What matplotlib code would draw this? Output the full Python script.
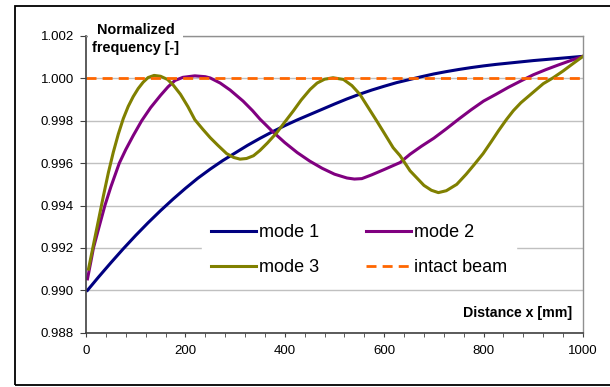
import numpy as np
import matplotlib
matplotlib.use("Agg")
import matplotlib.pyplot as plt
from matplotlib.patches import Rectangle
from matplotlib.ticker import MultipleLocator, FormatStrFormatter

plt.rcParams['font.family'] = ['Liberation Sans', 'DejaVu Sans']

# values (distance in mm, normalized frequency)
x1 = [3, 25, 50, 75, 100, 125, 150, 175, 200, 225, 250, 275, 300, 325, 350,
      375, 400, 425, 450, 475, 500, 525, 550, 575, 600, 625, 650, 675, 700,
      725, 750, 775, 800, 825, 850, 875, 900, 925, 950, 975, 1000]
mode1 = [0.99000, 0.99062, 0.99130, 0.99196, 0.99259, 0.99319, 0.99376,
         0.99430, 0.99481, 0.99529, 0.99572, 0.99612, 0.99648, 0.99684,
         0.99717, 0.99748, 0.99777, 0.99804, 0.99829, 0.99854, 0.99879,
         0.99903, 0.99925, 0.99945, 0.99963, 0.99980, 0.99994, 1.00008,
         1.00021, 1.00032, 1.00042, 1.00051, 1.00059, 1.00066, 1.00072,
         1.00078, 1.00084, 1.00089, 1.00094, 1.00099, 1.00104]

x2 = [3, 10, 15, 25, 38, 50, 67, 80, 95, 112, 130, 150, 165, 179, 195, 219,
      240, 250, 270, 290, 316, 335, 350, 375, 400, 425, 450, 475, 500, 525,
      540, 555, 575, 600, 632, 652, 675, 700, 725, 750, 775, 800, 825, 850,
      875, 900, 925, 950, 975, 1000]
mode2 = [0.99054, 0.99138, 0.99200, 0.99288, 0.99400, 0.99488, 0.99600,
         0.99664, 0.99730, 0.99800, 0.99862, 0.99920, 0.99960, 0.99990,
         1.00005, 1.00012, 1.00008, 1.00002, 0.99978, 0.99945, 0.99893,
         0.99848, 0.99808, 0.99750, 0.99697, 0.99650, 0.99610, 0.99576,
         0.99548, 0.99530, 0.99525, 0.99527, 0.99545, 0.99570, 0.99603,
         0.99642, 0.99680, 0.99718, 0.99762, 0.99808, 0.99852, 0.99893,
         0.99925, 0.99958, 0.99988, 1.00017, 1.00041, 1.00063, 1.00084,
         1.00104]

x3 = [5, 15, 25, 35, 45, 55, 65, 75, 85, 95, 105, 115, 125, 137, 150, 164,
      175, 190, 205, 219, 235, 250, 265, 283, 297, 310, 323, 337, 350, 365,
      384, 400, 417, 433, 451, 465, 480, 497, 518, 535, 551, 568, 585, 600,
      618, 632, 652, 665, 680, 695, 709, 725, 746, 765, 780, 799, 815, 830,
      846, 860, 875, 900, 920, 940, 960, 980, 1000]
mode3 = [0.99100, 0.99215, 0.99330, 0.99445, 0.99555, 0.99652, 0.99737,
         0.99810, 0.99868, 0.99914, 0.99952, 0.99982, 1.00004, 1.00014,
         1.00010, 0.99995, 0.99970, 0.99925, 0.99867, 0.99805, 0.99760,
         0.99720, 0.99685, 0.99645, 0.99627, 0.99619, 0.99622, 0.99635,
         0.99660, 0.99695, 0.99744, 0.99794, 0.99846, 0.99898, 0.99948,
         0.99978, 0.99996, 1.00003, 0.99995, 0.99966, 0.99925, 0.99862,
         0.99799, 0.99742, 0.99673, 0.99635, 0.99564, 0.99532, 0.99495,
         0.99472, 0.99461, 0.99470, 0.99500, 0.99548, 0.99590, 0.99645,
         0.99700, 0.99753, 0.99806, 0.99848, 0.99885, 0.99935, 0.99975,
         1.00003, 1.00035, 1.00070, 1.00104]

intact_x = [0, 1000]
intact = [1.0, 1.0]

fig = plt.figure(figsize=(6.1, 3.87), dpi=100)
ax = fig.add_axes([86 / 610, 1 - 332.7 / 387, 497 / 610, 296.7 / 387])

# outer chart border
fig.patches.append(Rectangle((15 / 610, 2 / 387), 1.0, 379 / 387,
                             transform=fig.transFigure, fill=False,
                             edgecolor='black', linewidth=1.3))

l1, = ax.plot(x1, mode1, color='#000080', lw=2.2, label='mode 1')
l2, = ax.plot(x2, mode2, color='#800080', lw=2.2, label='mode 2')
l3, = ax.plot(x3, mode3, color='#808000', lw=2.2, label='mode 3')
l4, = ax.plot(intact_x, intact, color='#FF6600', lw=2.0,
              dashes=(3.6, 2.2), label='intact beam')

ax.set_xlim(0, 1000)
ax.set_ylim(0.988, 1.002)
ax.xaxis.set_major_locator(MultipleLocator(200))
ax.xaxis.set_minor_locator(MultipleLocator(40))
ax.yaxis.set_major_locator(MultipleLocator(0.002))
ax.yaxis.set_major_formatter(FormatStrFormatter('%.3f'))
ax.tick_params(axis='both', which='major', labelsize=9.5, color='#404040')
ax.tick_params(axis='x', which='major', length=3.2, pad=6)
ax.tick_params(axis='y', which='major', length=4.3, pad=4.5)
ax.tick_params(axis='x', which='minor', length=2.6, color='#404040')
ax.grid(axis='y', color='#c0c0c0', lw=1.0)
ax.set_axisbelow(True)

for s in ['left', 'bottom']:
    ax.spines[s].set_color('#404040')
    ax.spines[s].set_linewidth(1.2)
for s in ['top', 'right']:
    ax.spines[s].set_color('#909090')
    ax.spines[s].set_linewidth(1.0)

ax.text(100, 1.00186, 'Normalized\nfrequency [-]', fontsize=10.4,
        fontweight='bold', ha='center', va='center', linespacing=1.3,
        bbox=dict(facecolor='white', edgecolor='none', pad=3), zorder=5)
ax.text(978, 0.98893, 'Distance x [mm]', fontsize=10.2, fontweight='bold',
        ha='right', va='center')

leg = ax.legend([l1, l3, l2, l4], ['mode 1', 'mode 3', 'mode 2', 'intact beam'],
                ncol=2, loc='upper left', bbox_to_anchor=(0.233, 0.397),
                fontsize=13, frameon=True, fancybox=False, framealpha=1,
                edgecolor='white', handlelength=2.5, handletextpad=0.17,
                columnspacing=2.6, labelspacing=1.0, borderpad=0.5,
                borderaxespad=0)

fig.savefig('out.png', dpi=100)
